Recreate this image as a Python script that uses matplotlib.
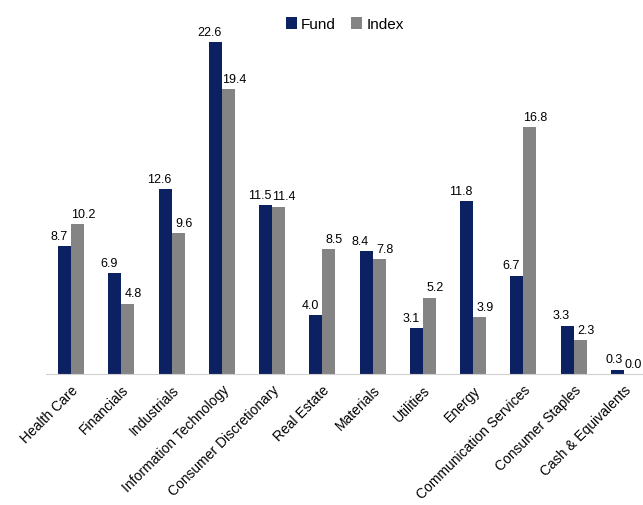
import numpy as np
import matplotlib.pyplot as plt

plt.rcParams['font.family'] = ['Liberation Sans', 'DejaVu Sans']

# Sector weights (%)
sectors = ['Health Care', 'Financials', 'Industrials', 'Information Technology',
           'Consumer Discretionary', 'Real Estate', 'Materials', 'Utilities',
           'Energy', 'Communication Services', 'Consumer Staples', 'Cash & Equivalents']
fund = [8.7, 6.9, 12.6, 22.6, 11.5, 4.0, 8.4, 3.1, 11.8, 6.7, 3.3, 0.3]
index = [10.2, 4.8, 9.6, 19.4, 11.4, 8.5, 7.8, 5.2, 3.9, 16.8, 2.3, 0.0]

fund_color = '#0c2161'
index_color = '#848484'

fig = plt.figure(figsize=(6.43, 5.06), dpi=100)
# axes spans past the right edge like the original
ax = fig.add_axes([46 / 643, 131 / 506, 603 / 643, 367 / 506])

x = np.arange(len(sectors))
w = 0.26
b1 = ax.bar(x - w / 2, fund, w, color=fund_color, label='Fund')
b2 = ax.bar(x + w / 2, index, w, color=index_color, label='Index')

# labels nudged outward so neighbouring values don't collide
for bars, dx in ((b1, -4), (b2, 4)):
    for i, rect in enumerate(bars):
        h = rect.get_height()
        off = dx
        if i == len(bars) - 1:
            off = dx / 2  # keep last label inside the figure
        ax.annotate(f'{h:.1f}', (rect.get_x() + rect.get_width() / 2, h),
                    xytext=(off, 3), textcoords='offset points',
                    ha='center', va='bottom', fontsize=9)

ax.set_xlim(-0.5, len(sectors) - 0.5)
ax.set_ylim(0, 25)
ax.set_yticks([])
for s in ['top', 'right', 'left']:
    ax.spines[s].set_visible(False)
ax.spines['bottom'].set_color('#d0d0d0')
ax.set_xticks(x)
ax.set_xticklabels(sectors, rotation=45, ha='right', rotation_mode='anchor', fontsize=10)
ax.tick_params(axis='x', length=0, pad=6)

fig.legend(loc='center', bbox_to_anchor=(345 / 643, 1 - 25 / 506), ncol=2, frameon=False,
           fontsize=11, handlelength=0.7, handleheight=0.8, handletextpad=0.3, columnspacing=1.0)

fig.savefig('out.png', dpi=100)
